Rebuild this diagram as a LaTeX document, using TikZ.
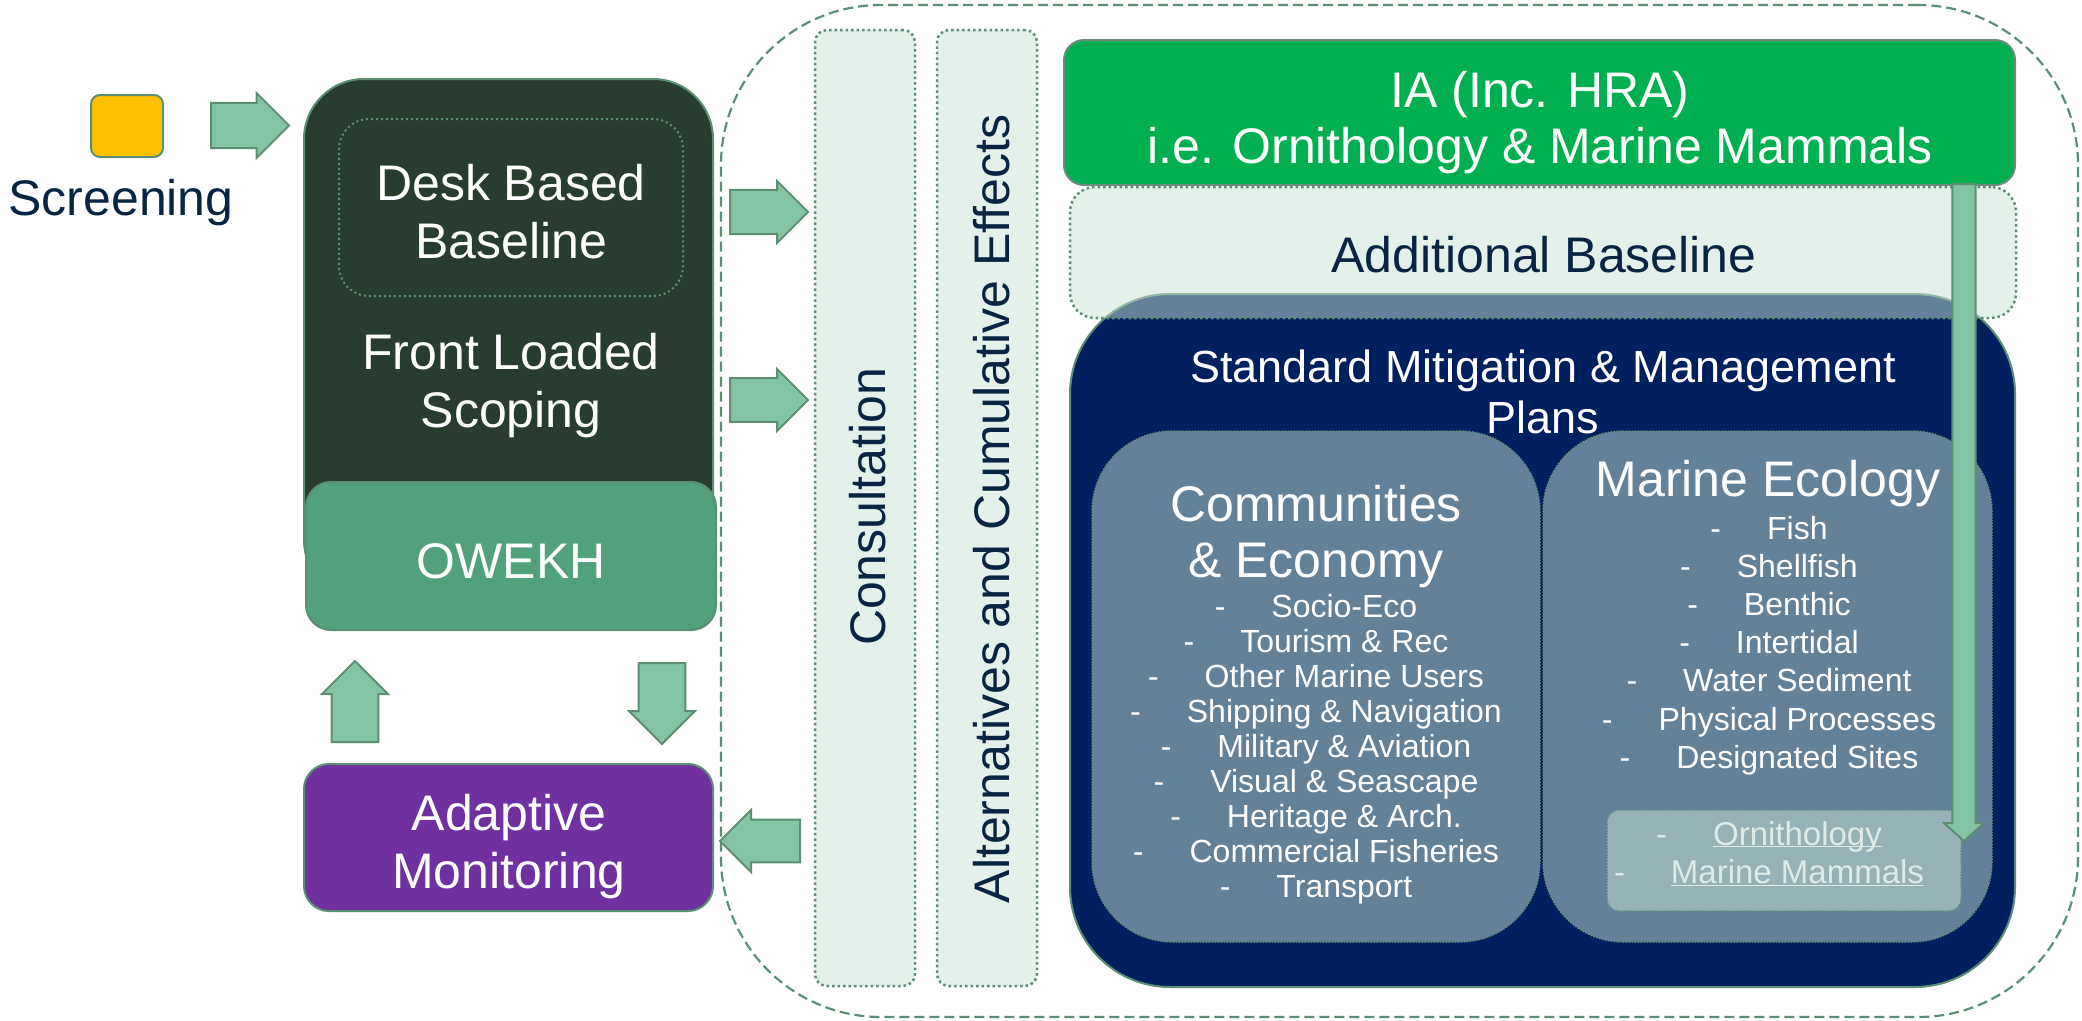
\documentclass[tikz,border=0pt]{standalone}
\usepackage{fontspec}
\setmainfont{Liberation Sans}
\usetikzlibrary{shapes.arrows}

\definecolor{sage}{RGB}{91,142,115}
\definecolor{mint}{RGB}{131,196,165}
\definecolor{darkgreen}{RGB}{40,61,48}
\definecolor{owekhgreen}{RGB}{81,161,124}
\definecolor{adaptpurple}{RGB}{112,48,160}
\definecolor{screenyellow}{RGB}{255,192,0}
\definecolor{iagreen}{RGB}{0,176,80}
\definecolor{iaborder}{RGB}{110,140,124}
\definecolor{plannavy}{RGB}{0,31,95}
\definecolor{palefill}{RGB}{201,227,213}
\definecolor{txtnavy}{RGB}{8,36,66}
\definecolor{linktxt}{RGB}{222,234,229}

\newcommand{\bigtxt}{\fontsize{50}{58}\selectfont}
\newcommand{\midtxt}{\fontsize{45}{51}\selectfont}
\newcommand{\itmtxt}{\fontsize{32}{36}\selectfont}
\newcommand{\itm}[1]{-\hspace{46pt}#1}

\begin{document}
\begin{tikzpicture}[x=1pt,y=1pt,yscale=-1,
    box/.style={draw=sage,line width=2pt,inner sep=0pt,rounded corners=#1},
    pale/.style={draw=sage,fill=palefill,fill opacity=0.5,line width=2.5pt,
      dash pattern=on 2.5pt off 3pt,inner sep=0pt,rounded corners=#1},
    thinpale/.style={pale=#1,line width=1.5pt,dash pattern=on 1.5pt off 1.5pt},
    blk/.style={single arrow,draw=sage,fill=mint,line width=2pt,inner xsep=0pt,
      single arrow tip angle=90,anchor=tail},
    big/.style={font=\bigtxt,align=center,inner sep=0pt,anchor=base},
    item/.style={font=\itmtxt,text=white,inner sep=0pt,anchor=base}]
\useasboundingbox (0,0) rectangle (2082,1020);

%Rounded Rect (outer dashed frame)
\node[draw=sage,line width=2.2pt,dash pattern=on 10pt off 5pt,rounded corners=160,
  inner sep=0pt,minimum width=1357,minimum height=1012] (frame) at (1399.5,511) {};

%Screening
\node[box=9,fill=screenyellow,minimum width=72,minimum height=62] (screen) at (127,126) {};
\node[big,text=txtnavy] (screenlbl) at (121,215) {Screening};
\node[blk,fill=mint,inner ysep=15.5pt,minimum height=78,minimum width=65] (a1) at (210,125.5) {};

%Front loaded scoping column
\node[box=60,fill=darkgreen,minimum width=409,minimum height=521] (scoping) at (508.5,339.5) {};
\node[draw=sage,line width=2pt,dash pattern=on 2pt off 3pt,rounded corners=30,
  inner sep=0pt,minimum width=344,minimum height=177] (desk) at (511,207.5) {};
\node[big,text=white] (desklbl) at (511,258) {Desk Based\\Baseline};
\node[big,text=white] (scopinglbl) at (511,427) {Front Loaded\\Scoping};
\node[box=25,fill=owekhgreen,minimum width=410,minimum height=148] (owekh) at (511,556) {};
\node[big,text=white] (owekhlbl) at (511,578) {OWEKH};
\node[box=25,fill=adaptpurple,minimum width=409,minimum height=147] (adapt) at (508.5,837.5) {};
\node[big,text=white] (adaptlbl) at (509,888) {Adaptive\\Monitoring};

%Feedback arrows
\node[blk,inner ysep=16.5pt,minimum height=81,minimum width=66,rotate=90] (up) at (355,743) {};
\node[blk,inner ysep=16pt,minimum height=81,minimum width=66,rotate=-90] (down) at (662,662) {};

%Consultation & alternatives
\node[pale=12,minimum width=100,minimum height=956] (consult) at (865,508) {};
\node[pale=12,minimum width=100,minimum height=956] (altern) at (987,508) {};
\node[font=\bigtxt,text=txtnavy,inner sep=0pt,rotate=90,anchor=base] (consultlbl) at (885,507) {Consultation};
\node[font=\bigtxt,text=txtnavy,inner sep=0pt,rotate=90,anchor=base] (alternlbl) at (1009,509) {Alternatives and Cumulative Effects};
\node[blk,inner ysep=16.5pt,minimum height=78,minimum width=62] (a2) at (729,212) {};
\node[blk,inner ysep=16pt,minimum height=78,minimum width=62] (a3) at (729,400) {};
\node[blk,inner ysep=15pt,minimum height=80,minimum width=62,rotate=180] (a4) at (801,841) {};

%Standard mitigation & management plans
\node[box=100,fill=plannavy,minimum width=945,minimum height=693] (plans) at (1542.5,640.5) {};
\node[pale=25,minimum width=946,minimum height=131] (addbase) at (1543,252.5) {};
\node[big,text=txtnavy] (addbaselbl) at (1544,272) {Additional Baseline};
\node[box=20,draw=iaborder,fill=iagreen,minimum width=951,minimum height=145] (ia) at (1539.5,112.5) {};
\node[big,text=white,font=\fontsize{50}{56}\selectfont] (ialbl) at (1540,163) {IA (Inc. HRA)\\i.e. Ornithology \& Marine Mammals};
\node[big,text=white,font=\midtxt] (planslbl) at (1543,433) {Standard Mitigation \& Management\\Plans};

%Communities & economy
\node[thinpale=80,minimum width=448,minimum height=511] (comm) at (1316,686.5) {};
\node[big,text=white,font=\fontsize{50}{56}\selectfont] (commlbl) at (1316,577) {Communities\\\& Economy};
\foreach \t [count=\i from 0] in {Socio-Eco,Tourism \& Rec,Other Marine Users,
    Shipping \& Navigation,Military \& Aviation,Visual \& Seascape,
    Heritage \& Arch.,Commercial Fisheries,Transport}
  \node[item] (ce\i) at (1316,617+35.1*\i) {\itm{\t}};

%Marine ecology
\node[thinpale=80,minimum width=449,minimum height=511] (marine) at (1767.5,686.5) {};
\node[big,text=white] (marinelbl) at (1768,496) {Marine Ecology};
\foreach \t [count=\i from 0] in {Fish,Shellfish,Benthic,Intertidal,
    Water Sediment,Physical Processes,Designated Sites}
  \node[item] (me\i) at (1769,539+38.2*\i) {\itm{\t}};
\node[thinpale=12,minimum width=354,minimum height=101] (ornith) at (1784,860.5) {};
\node[item,text=linktxt,font=\fontsize{33}{38}\selectfont] (orn) at (1769,845) {\itm{\underline{\smash{Ornithology}}}};
\node[item,text=linktxt,font=\fontsize{33}{38}\selectfont] (mam) at (1769,883) {\itm{\underline{Marine Mammals}}};

%IA to ornithology / marine mammals
\node[blk,inner ysep=9pt,minimum height=657,minimum width=40,
  single arrow tip angle=96,rotate=-90] (iaarrow) at (1964,183) {};
\end{tikzpicture}
\end{document}
